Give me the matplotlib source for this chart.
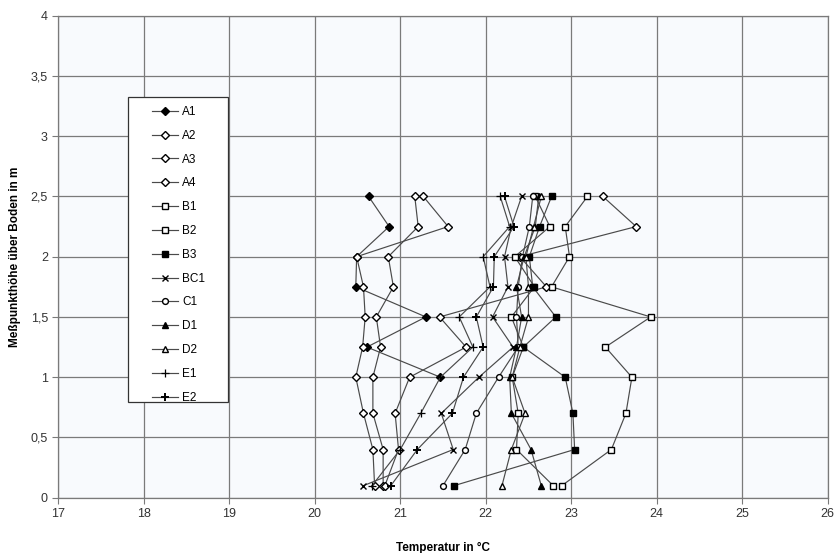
import matplotlib
matplotlib.use('Agg')
import matplotlib.pyplot as plt
from matplotlib.patches import Rectangle

plt.rcParams['font.family'] = ['Liberation Sans', 'DejaVu Sans']

# Messhöhen in m
hoehe = [0.1, 0.4, 0.7, 1.0, 1.25, 1.5, 1.75, 2.0, 2.25, 2.5]

# Temperaturen in °C je Messpunkt (von unten nach oben)
A1 = [None, None, None, 21.47, 20.61, 21.30, 20.48, 20.49, 20.87, 20.63]
A2 = [20.80, 20.80, 20.68, 20.68, 20.77, 20.72, 20.92, 20.86, 21.21, 21.17]
A3 = [20.70, 20.68, 20.57, 20.48, 20.56, 20.59, 20.57, 20.49, 21.56, 21.27]
A4 = [20.82, 20.98, 20.94, 21.11, 21.77, 21.46, 22.71, 22.40, 23.76, 23.37]
B1 = [22.89, 23.47, 23.64, 23.71, 23.40, 23.93, 22.77, 22.98, 22.93, 23.19]
B2 = [22.79, 22.36, 22.38, 22.31, 22.44, 22.30, 22.57, 22.34, 22.75, 22.58]
B3 = [21.63, 23.04, 23.02, 22.93, 22.44, 22.82, 22.55, 22.51, 22.63, 22.77]
BC1 = [20.57, 21.62, 21.48, 21.92, 22.32, 22.08, 22.26, 22.22, 22.30, 22.42]
C1 = [21.50, 21.76, 21.89, 22.15, 22.38, 22.36, 22.38, 22.43, 22.51, 22.55]
D1 = [22.65, 22.53, 22.30, 22.28, 22.36, 22.42, 22.36, 22.45, 22.58, 22.62]
D2 = [22.19, 22.30, 22.46, 22.31, 22.40, 22.50, 22.50, 22.47, 22.56, 22.65]
E1 = [20.67, 21.00, 21.24, 21.47, 21.85, 21.69, 22.05, 21.97, 22.28, 22.17]
E2 = [20.89, 21.20, 21.61, 21.74, 21.97, 21.89, 22.09, 22.10, 22.33, 22.22]

x_ticks = [17, 18, 19, 20, 21, 22, 23, 24, 25, 26]
y_ticks = [0, 0.5, 1, 1.5, 2, 2.5, 3, 3.5, 4]
y_labels = ['0', '0,5', '1', '1,5', '2', '2,5', '3', '3,5', '4']

serien = [
    ('A1', A1, dict(marker='D', mfc='black', ms=3.6)),
    ('A2', A2, dict(marker='D', mfc='white', ms=3.6)),
    ('A3', A3, dict(marker='D', mfc='white', ms=3.6)),
    ('A4', A4, dict(marker='D', mfc='white', ms=3.6)),
    ('B1', B1, dict(marker='s', mfc='white', ms=4.5)),
    ('B2', B2, dict(marker='s', mfc='white', ms=4.5)),
    ('B3', B3, dict(marker='s', mfc='black', ms=4.5)),
    ('BC1', BC1, dict(marker='x', ms=4.5, mew=1.0)),
    ('C1', C1, dict(marker='o', mfc='white', ms=4.2)),
    ('D1', D1, dict(marker='^', mfc='black', ms=4.5)),
    ('D2', D2, dict(marker='^', mfc='white', ms=4.5)),
    ('E1', E1, dict(marker='+', ms=5.5, mew=0.9)),
    ('E2', E2, dict(marker='+', ms=5.5, mew=1.4)),
]

fig = plt.figure(figsize=(8.34, 5.53), dpi=100)
ax = fig.add_axes([0.0699, 0.100, 0.9225, 0.8716])
ax.set_facecolor('#f8fafd')

for name, temps, st in serien:
    xs = [t for t in temps if t is not None]
    ys = [h for h, t in zip(hoehe, temps) if t is not None]
    ax.plot(xs, ys, color='#4a4a4a', lw=0.85, mec='black', label=name, zorder=3, **st)

ax.set_xlim(17, 26)
ax.set_ylim(0, 4)
ax.set_xticks(x_ticks)
ax.set_yticks(y_ticks)
ax.set_yticklabels(y_labels)
ax.grid(True, color='#7a7a7a', lw=0.9)
ax.set_axisbelow(True)
for s in ax.spines.values():
    s.set_color('#7a7a7a')
    s.set_linewidth(0.9)
ax.tick_params(labelsize=9, color='#7a7a7a', length=4, colors='#333333')

ax.set_xlabel('Temperatur in °C', fontsize=8.5, fontweight='bold', labelpad=16)
ax.set_ylabel('Meßpunkthöhe über Boden in m', fontsize=8.5, fontweight='bold', labelpad=7)

# Legendenrahmen breiter als der Inhalt, daher eigener Rahmen
ax.add_patch(Rectangle((128 / 834, 1 - 402 / 553), 100 / 834, 305 / 553,
                       transform=fig.transFigure, facecolor='white',
                       edgecolor='#333333', lw=0.9, zorder=4, clip_on=False))
leg = ax.legend(loc='upper left', bbox_to_anchor=(152 / 834, 1 - 106 / 553),
                bbox_transform=fig.transFigure, fontsize=8.5, frameon=False,
                labelspacing=1.0, handlelength=2.2, handletextpad=0.35,
                borderpad=0, borderaxespad=0)
leg.set_zorder(5)

fig.savefig('out.png', dpi=100, facecolor='white')
